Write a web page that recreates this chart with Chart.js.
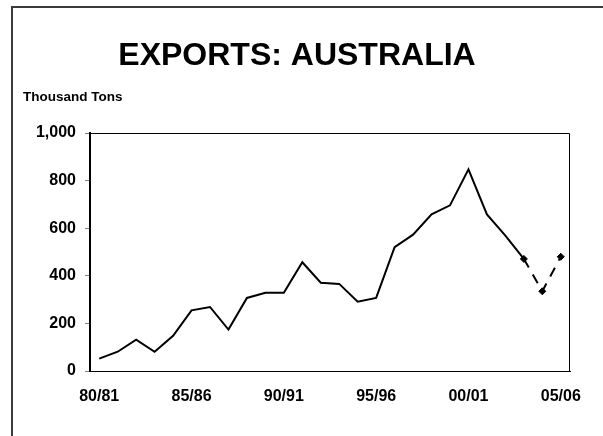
<!DOCTYPE html>
<html lang="en">
<head>
    <meta charset="UTF-8">
    <title>Exports: Australia</title>
    <script src="https://cdn.jsdelivr.net/npm/chart.js"></script>
    <style>
        body {
            margin: 0;
            padding: 0;
            background-color: #ffffff;
        }
        canvas {
            display: block;
        }
    </style>
</head>
<body>
    <canvas id="exportsChart" width="603" height="436"></canvas>

    <script>
        // Marketing years shown on the x axis
        var seasons = ['80/81', '81/82', '82/83', '83/84', '84/85', '85/86', '86/87', '87/88', '88/89', '89/90',
                       '90/91', '91/92', '92/93', '93/94', '94/95', '95/96', '96/97', '97/98', '98/99', '99/00',
                       '00/01', '01/02', '02/03', '03/04', '04/05', '05/06'];

        // Exports, thousand tons (solid line)
        var exportsActual = [52, 81, 132, 81, 148, 255, 269, 174, 307, 329,
                             329, 457, 371, 366, 291, 307, 520, 573, 658, 696,
                             847, 658, 569, 471, null, null];

        // Estimate / projection (dashed line with markers)
        var exportsProjected = [null, null, null, null, null, null, null, null, null, null,
                                null, null, null, null, null, null, null, null, null, null,
                                null, null, null, 471, 335, 480];

        // Only these season labels are written under the axis
        var shownSeasons = ['80/81', '85/86', '90/91', '95/96', '00/01', '05/06'];

        var fontName = '"Liberation Sans", Arial, sans-serif';

        // Frame, plot border and the heading texts
        var decorPlugin = {
            id: 'decor',
            beforeDraw: function (chart) {
                var c = chart.ctx;
                c.save();
                c.fillStyle = '#ffffff';
                c.fillRect(0, 0, chart.width, chart.height);
                c.strokeStyle = '#3a3a3a';
                c.lineWidth = 2;
                c.beginPath();
                c.moveTo(12, chart.height);
                c.lineTo(12, 7);
                c.lineTo(chart.width, 7);
                c.stroke();
                c.restore();
            },
            afterDraw: function (chart) {
                var c = chart.ctx;
                var a = chart.chartArea;
                c.save();
                c.strokeStyle = '#000000';
                c.lineWidth = 1;
                c.beginPath();
                c.moveTo(a.left, a.top + 0.5);
                c.lineTo(a.right - 0.5, a.top + 0.5);
                c.lineTo(a.right - 0.5, a.bottom);
                c.stroke();

                c.fillStyle = '#000000';
                c.textBaseline = 'alphabetic';
                c.textAlign = 'center';
                c.font = 'bold 32px ' + fontName;
                c.fillText('EXPORTS: AUSTRALIA', 297, 65);
                c.textAlign = 'left';
                c.font = 'bold 13.5px ' + fontName;
                c.fillText('Thousand Tons', 23, 101);
                c.restore();
            }
        };

        var ctx = document.getElementById('exportsChart').getContext('2d');
        var exportsChart = new Chart(ctx, {
            type: 'line',
            data: {
                labels: seasons,
                datasets: [{
                    label: 'Exports',
                    data: exportsActual,
                    borderColor: '#000000',
                    borderWidth: 2,
                    pointRadius: 0,
                    tension: 0,
                    fill: false
                }, {
                    label: 'Projected',
                    data: exportsProjected,
                    borderColor: '#000000',
                    borderWidth: 2,
                    borderDash: [10, 8],
                    pointStyle: 'rectRot',
                    pointRadius: 3.5,
                    pointBackgroundColor: '#000000',
                    pointBorderColor: '#000000',
                    pointBorderWidth: 1,
                    tension: 0,
                    fill: false
                }]
            },
            options: {
                responsive: false,
                animation: false,
                layout: {
                    padding: { top: 133, right: 33, bottom: 0, left: 0 }
                },
                plugins: {
                    legend: { display: false },
                    tooltip: { enabled: false }
                },
                scales: {
                    x: {
                        offset: true,
                        grid: { display: false, drawTicks: false },
                        border: { display: true, color: '#000000', width: 1 },
                        ticks: {
                            autoSkip: false,
                            maxRotation: 0,
                            padding: 16,
                            color: '#000000',
                            font: { family: fontName, size: 16, weight: 'bold' },
                            callback: function (value, index) {
                                var lab = seasons[index];
                                return shownSeasons.indexOf(lab) >= 0 ? lab : null;
                            }
                        },
                        afterFit: function (scale) {
                            scale.height = 65;
                        }
                    },
                    y: {
                        min: 0,
                        max: 1000,
                        grid: {
                            drawOnChartArea: false,
                            tickLength: 5,
                            tickColor: '#808080',
                            tickWidth: 1
                        },
                        border: { display: true, color: '#000000', width: 2 },
                        ticks: {
                            stepSize: 200,
                            padding: 9,
                            color: '#000000',
                            font: { family: fontName, size: 16, weight: 'bold' },
                            callback: function (value) {
                                return value.toLocaleString('en-US');
                            }
                        },
                        afterFit: function (scale) {
                            scale.width = 90;
                        }
                    }
                }
            },
            plugins: [decorPlugin]
        });
    </script>
</body>
</html>
